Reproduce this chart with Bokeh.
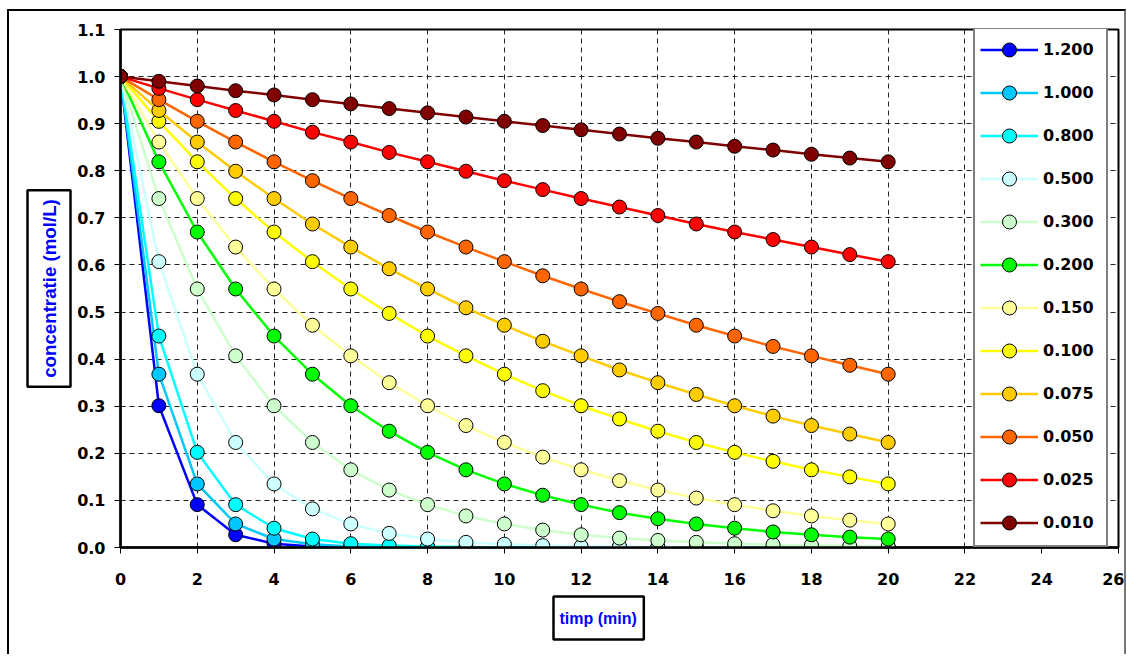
import numpy as np
from bokeh.plotting import figure
from bokeh.models import (Range1d, FixedTicker, PrintfTickFormatter, Legend, Title)
from bokeh.embed import file_html
from bokeh.resources import INLINE

# ---- data ----
t = list(range(0, 21))
series_labels = ["1.200", "1.000", "0.800", "0.500", "0.300", "0.200",
                 "0.150", "0.100", "0.075", "0.050", "0.025", "0.010"]
c_1200 = [1.000, 0.301, 0.091, 0.027, 0.008, 0.002, 0.001, 0.000, 0.000, 0.000, 0.000,
          0.000, 0.000, 0.000, 0.000, 0.000, 0.000, 0.000, 0.000, 0.000, 0.000]
c_1000 = [1.000, 0.368, 0.135, 0.050, 0.018, 0.007, 0.002, 0.001, 0.000, 0.000, 0.000,
          0.000, 0.000, 0.000, 0.000, 0.000, 0.000, 0.000, 0.000, 0.000, 0.000]
c_0800 = [1.000, 0.449, 0.202, 0.091, 0.041, 0.018, 0.008, 0.004, 0.002, 0.001, 0.000,
          0.000, 0.000, 0.000, 0.000, 0.000, 0.000, 0.000, 0.000, 0.000, 0.000]
c_0500 = [1.000, 0.607, 0.368, 0.223, 0.135, 0.082, 0.050, 0.030, 0.018, 0.011, 0.007,
          0.004, 0.002, 0.002, 0.001, 0.001, 0.000, 0.000, 0.000, 0.000, 0.000]
c_0300 = [1.000, 0.741, 0.549, 0.407, 0.301, 0.223, 0.165, 0.122, 0.091, 0.067, 0.050,
          0.037, 0.027, 0.020, 0.015, 0.011, 0.008, 0.006, 0.005, 0.003, 0.002]
c_0200 = [1.000, 0.819, 0.670, 0.549, 0.449, 0.368, 0.301, 0.247, 0.202, 0.165, 0.135,
          0.111, 0.091, 0.074, 0.061, 0.050, 0.041, 0.033, 0.027, 0.022, 0.018]
c_0150 = [1.000, 0.861, 0.741, 0.638, 0.549, 0.472, 0.407, 0.350, 0.301, 0.259, 0.223,
          0.192, 0.165, 0.142, 0.122, 0.105, 0.091, 0.078, 0.067, 0.058, 0.050]
c_0100 = [1.000, 0.905, 0.819, 0.741, 0.670, 0.607, 0.549, 0.497, 0.449, 0.407, 0.368,
          0.333, 0.301, 0.273, 0.247, 0.223, 0.202, 0.183, 0.165, 0.150, 0.135]
c_0075 = [1.000, 0.928, 0.861, 0.799, 0.741, 0.687, 0.638, 0.592, 0.549, 0.509, 0.472,
          0.438, 0.407, 0.377, 0.350, 0.325, 0.301, 0.279, 0.259, 0.241, 0.223]
c_0050 = [1.000, 0.951, 0.905, 0.861, 0.819, 0.779, 0.741, 0.705, 0.670, 0.638, 0.607,
          0.577, 0.549, 0.522, 0.497, 0.472, 0.449, 0.427, 0.407, 0.387, 0.368]
c_0025 = [1.000, 0.975, 0.951, 0.928, 0.905, 0.882, 0.861, 0.839, 0.819, 0.799, 0.779,
          0.760, 0.741, 0.723, 0.705, 0.687, 0.670, 0.654, 0.638, 0.622, 0.607]
c_0010 = [1.000, 0.990, 0.980, 0.970, 0.961, 0.951, 0.942, 0.932, 0.923, 0.914, 0.905,
          0.896, 0.887, 0.878, 0.869, 0.861, 0.852, 0.844, 0.835, 0.827, 0.819]
series_values = [c_1200, c_1000, c_0800, c_0500, c_0300, c_0200,
                 c_0150, c_0100, c_0075, c_0050, c_0025, c_0010]
series_colors = ["#0000FF", "#00C8FF", "#00FFFF", "#CCFFFF", "#CCFFCC", "#00FF00",
                 "#FFFF99", "#FFFF00", "#FFCC00", "#FF6600", "#FF0000", "#800000"]
x_ticks = list(range(0, 27, 2))
y_ticks = [round(0.1 * i, 1) for i in range(0, 12)]
x_title = "timp (min)"
y_title = "concentratie (mol/L)"

TICK_FONT = "DejaVu Sans"
TITLE_FONT = "Liberation Sans"

p = figure(width=1119, height=645, output_backend="svg", toolbar_location=None,
           x_range=Range1d(0, 26), y_range=Range1d(0, 1.1),
           min_border_left=111, min_border_right=10, min_border_top=18,
           min_border_bottom=109)
p.styles = {"margin-left": "7px", "margin-top": "9px",
            "border-left": "2px solid black", "border-top": "2px solid black",
            "border-right": "2px solid #777777"}
p.background_fill_color = "white"
p.border_fill_color = "white"
p.outline_line_color = "black"
p.outline_line_width = 2

for ax in (p.xaxis[0], p.yaxis[0]):
    ax.axis_line_color = "black"
    ax.axis_line_width = 2.5
    ax.major_tick_line_color = "black"
    ax.major_tick_line_width = 1
    ax.major_tick_out = 6
    ax.major_tick_in = 0
    ax.minor_tick_line_color = None
    ax.major_label_text_font = TICK_FONT
    ax.major_label_text_font_style = "bold"
    ax.major_label_text_font_size = "16px"
    ax.major_label_text_color = "black"

p.xaxis[0].ticker = FixedTicker(ticks=x_ticks)
p.yaxis[0].ticker = FixedTicker(ticks=y_ticks)
p.yaxis[0].formatter = PrintfTickFormatter(format="%.1f")
p.xaxis[0].major_label_standoff = 19
p.yaxis[0].major_label_standoff = 9

for g in (p.xgrid[0], p.ygrid[0]):
    g.grid_line_color = "#222222"
    g.grid_line_dash = "5 4"
    g.grid_line_width = 1
p.xgrid[0].ticker = FixedTicker(ticks=x_ticks)
p.ygrid[0].ticker = FixedTicker(ticks=y_ticks)

legend_items = []
for lab, vals, col in zip(series_labels, series_values, series_colors):
    r_line = p.line(t, vals, line_color=col, line_width=2.5)
    r_pts = p.scatter(t, vals, marker="circle", size=14, fill_color=col,
                      line_color="black", line_width=1)
    legend_items.append((lab, [r_line, r_pts]))

legend = Legend(items=legend_items, location=(853, 0), orientation="vertical",
                glyph_width=58, glyph_height=35, spacing=8, padding=5, margin=0,
                label_standoff=5, label_width=58,
                label_text_font=TICK_FONT, label_text_font_style="bold",
                label_text_font_size="16px", label_text_color="black",
                border_line_color="black", border_line_width=2.5,
                background_fill_color="white", background_fill_alpha=1.0)
p.add_layout(legend, "center")

# padding order: (left, right, top, bottom)
xt = Title(text=x_title, align="left", offset=433, vertical_align="middle",
           standoff=16, text_font=TITLE_FONT, text_font_style="bold",
           text_font_size="16px", text_color="#0000FF",
           border_line_color="black", border_line_width=2.5,
           background_fill_color="white", padding=(6, 7, 13, 13))
p.add_layout(xt, "below")
yt = Title(text=y_title, align="center", vertical_align="middle",
           standoff=10, text_font=TITLE_FONT, text_font_style="bold",
           text_font_size="18.7px", text_color="#0000FF",
           border_line_color="black", border_line_width=2.5,
           background_fill_color="white", padding=(9, 9, 11, 11))
p.add_layout(yt, "left")

open("out.html", "w").write(file_html(p, INLINE))
